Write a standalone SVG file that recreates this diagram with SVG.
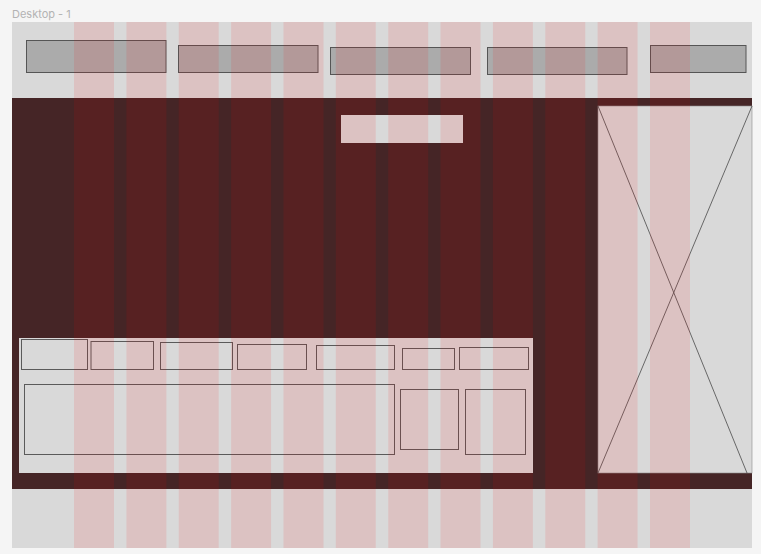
<svg xmlns="http://www.w3.org/2000/svg" width="761" height="554" viewBox="0 0 761 554">
<style>
.nav{fill:#ababab;stroke:#555;stroke-width:1}
.box{fill:none;stroke:#5a5a5a;stroke-width:1}
.col{fill:#ff0000;fill-opacity:0.1}
.x{stroke:#4a4a4a;stroke-width:0.8;fill:none}
</style>
<rect width="761" height="554" fill="#f5f5f5"/>
<text x="12" y="17.5" font-family="Inter, 'Noto Sans', sans-serif" font-size="11" fill="#b3b3b3">Desktop - 1</text>
<g id="frame">
<rect x="12" y="22" width="740" height="526" fill="#d9d9d9"/>
</g>
<g id="nav">
<rect class="nav" x="26.5" y="40.5" width="139.5" height="32"/>
<rect class="nav" x="178.5" y="45.5" width="139.5" height="27"/>
<rect class="nav" x="330.5" y="47.5" width="140" height="27"/>
<rect class="nav" x="487.5" y="47.5" width="139.5" height="27"/>
<rect class="nav" x="650.5" y="45.5" width="95.5" height="27"/>
</g>
<g id="hero">
<rect x="12" y="98" width="740" height="391" fill="#452526"/>
</g>
<g id="hero-title">
<rect x="341" y="115" width="122" height="28" fill="#d9d9d9"/>
</g>
<g id="image">
<rect x="598" y="106" width="154" height="367" fill="#d9d9d9" stroke="#8a8a8a" stroke-width="0.6"/>
<line class="x" x1="598" y1="106" x2="747" y2="473"/>
<line class="x" x1="752" y1="106" x2="598" y2="473"/>
</g>
<g id="panel">
<rect x="19" y="338" width="514" height="135" fill="#d9d9d9"/>
<rect class="box" x="21.5" y="339.5" width="66" height="30"/>
<rect class="box" x="91" y="341.5" width="62.5" height="28"/>
<rect class="box" x="160.5" y="342.5" width="72" height="27"/>
<rect class="box" x="237.5" y="344.5" width="69" height="25"/>
<rect class="box" x="316.5" y="345.5" width="78" height="24"/>
<rect class="box" x="402.5" y="348.5" width="52" height="21"/>
<rect class="box" x="459.5" y="347.5" width="69" height="22"/>
<rect class="box" x="24.5" y="384.5" width="370" height="70"/>
<rect class="box" x="400.5" y="389.5" width="58" height="60"/>
<rect class="box" x="465.5" y="389.5" width="60" height="65"/>
</g>
<g id="grid">
<rect class="col" x="74" y="22" width="40" height="526"/>
<rect class="col" x="126.4" y="22" width="40" height="526"/>
<rect class="col" x="178.7" y="22" width="40" height="526"/>
<rect class="col" x="231.1" y="22" width="40" height="526"/>
<rect class="col" x="283.5" y="22" width="40" height="526"/>
<rect class="col" x="335.8" y="22" width="40" height="526"/>
<rect class="col" x="388.2" y="22" width="40" height="526"/>
<rect class="col" x="440.5" y="22" width="40" height="526"/>
<rect class="col" x="492.9" y="22" width="40" height="526"/>
<rect class="col" x="545.3" y="22" width="40" height="526"/>
<rect class="col" x="597.6" y="22" width="40" height="526"/>
<rect class="col" x="650" y="22" width="40" height="526"/>
</g>
</svg>
